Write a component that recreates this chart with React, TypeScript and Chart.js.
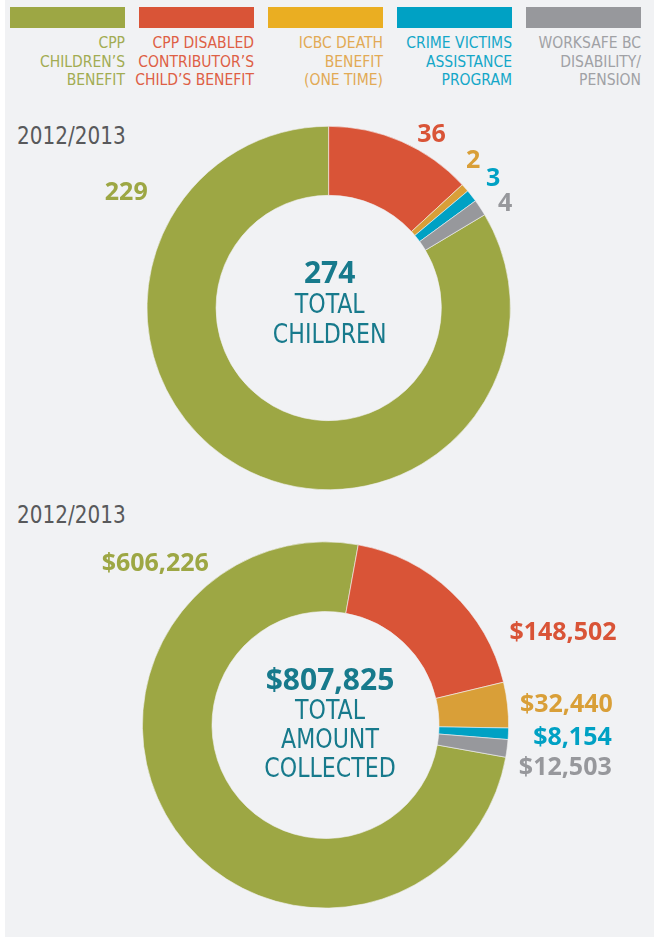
import React, { useEffect, useRef } from "react";
import { Chart, registerables } from "chart.js";

Chart.register(...registerables);

// ---------- data ----------
const categories = [
  "CPP Children’s Benefit",
  "CPP Disabled Contributor’s Child’s Benefit",
  "ICBC Death Benefit (One Time)",
  "Crime Victims Assistance Program",
  "WorkSafe BC Disability/Pension",
];
const legendLines = [
  ["CPP", "CHILDREN’S", "BENEFIT"],
  ["CPP DISABLED", "CONTRIBUTOR’S", "CHILD’S BENEFIT"],
  ["ICBC DEATH", "BENEFIT", "(ONE TIME)"],
  ["CRIME VICTIMS", "ASSISTANCE", "PROGRAM"],
  ["WORKSAFE BC", "DISABILITY/", "PENSION"],
];
const childrenCounts = [229, 36, 2, 3, 4];
const amountsCollected = [606226, 148502, 32440, 8154, 12503];
const periodLabel = "2012/2013";
const childrenCenterWords = ["TOTAL", "CHILDREN"];
const amountCenterWords = ["TOTAL", "AMOUNT", "COLLECTED"];

// ---------- styles ----------
const BG = "#f1f2f4";
const sliceColors = ["#9da744", "#d95437", "#d99f38", "#00a1c4", "#97989c"];
const legendBarColors = ["#9da744", "#d95437", "#eaae22", "#00a1c4", "#97989c"];
const legendTextColors = ["#a2ac52", "#de5f45", "#e2aa55", "#14a7c8", "#a0a1a5"];
const labelColors = ["#9da744", "#d95437", "#d99f38", "#00a1c4", "#97989c"];
const TEAL = "#177a8c";
const NARROW = '"Liberation Sans Narrow", "DejaVu Sans Condensed", "Arial Narrow", sans-serif';
const BOLD = '"Open Sans", "Noto Sans", sans-serif';

// label placement (angle deg clockwise from top, distance as ratio of outer radius)
const childrenLabelPos = [
  [300.1, 1.288],
  [30.4, 1.118],
  [44.1, 1.143],
  [51.4, 1.158],
  [59.1, 1.131],
];
const amountLabelPos = [
  [313.7, 1.286],
  [68.4, 1.395],
  [84.8, 1.321],
  [92.5, 1.35],
  [99.8, 1.329],
];

const fmtMoney = (v: number) => "$" + v.toLocaleString("en-US");

type DonutProps = {
  data: number[];
  labels: string[];
  labelPos: number[][];
  centerBold: string;
  centerWords: string[];
  centerOffsets: number[];
  centerDx: number;
  firstSliceStart: number;
  padding: { left: number; right: number; top: number; bottom: number };
  top: number;
  height: number;
};

function Donut(p: DonutProps) {
  const ref = useRef<HTMLCanvasElement | null>(null);
  useEffect(() => {
    const total = p.data.reduce((a, b) => a + b, 0);
    const rotation = p.firstSliceStart + (360 * (total - p.data[0])) / total;

    const labelPlugin = {
      id: "sliceLabels",
      afterDraw(chart: any) {
        const arc = chart.getDatasetMeta(0).data[0];
        if (!arc) return;
        const { x: cx, y: cy, outerRadius: R } = arc;
        const ctx = chart.ctx;
        ctx.save();
        const fs = 25;
        ctx.font = `700 ${fs}px ${BOLD}`;
        ctx.textAlign = "center";
        ctx.textBaseline = "alphabetic";
        p.labels.forEach((t, i) => {
          const [a, d] = p.labelPos[i];
          const rad = (a * Math.PI) / 180;
          const x = cx + d * R * Math.sin(rad);
          const y = cy - d * R * Math.cos(rad);
          ctx.fillStyle = labelColors[i];
          ctx.fillText(t, x, y + 0.357 * fs);
        });
        // center text
        ctx.fillStyle = TEAL;
        const bfs = 30;
        ctx.font = `700 ${bfs}px ${BOLD}`;
        ctx.fillText(p.centerBold, cx + p.centerDx, cy + p.centerOffsets[0] + 0.357 * bfs);
        const nfs = 27;
        ctx.font = `400 ${nfs}px ${NARROW}`;
        p.centerWords.forEach((w, i) => {
          ctx.save();
          ctx.translate(cx + p.centerDx, cy + p.centerOffsets[i + 1] + 0.36 * nfs);
          ctx.scale(0.91, 1);
          ctx.fillText(w, 0, 0);
          ctx.restore();
        });
        ctx.restore();
      },
    };

    const chart = new Chart(ref.current as HTMLCanvasElement, {
      type: "doughnut",
      data: {
        labels: categories,
        datasets: [
          {
            data: p.data,
            backgroundColor: sliceColors,
            borderColor: BG,
            borderWidth: 0.6,
            hoverOffset: 0,
          },
        ],
      },
      options: {
        responsive: false,
        animation: false,
        cutout: "62%",
        rotation,
        layout: { padding: p.padding },
        plugins: { legend: { display: false }, tooltip: { enabled: false } },
      },
      plugins: [labelPlugin],
    } as any);
    const fonts: any = (document as any).fonts;
    if (fonts && fonts.ready) fonts.ready.then(() => chart.draw());
    return () => chart.destroy();
  }, []);
  return (
    <canvas
      ref={ref}
      width={654}
      height={p.height}
      style={{ position: "absolute", left: 0, top: p.top, width: 654, height: p.height }}
    />
  );
}

const periodStyle = (top: number): React.CSSProperties => ({
  position: "absolute",
  left: 17,
  top,
  fontFamily: NARROW,
  fontSize: 25,
  lineHeight: "34px",
  color: "#58595b",
  transform: "scaleX(0.89)",
  transformOrigin: "left center",
  whiteSpace: "nowrap",
});

export default function App() {
  const childrenTotal = childrenCounts.reduce((a, b) => a + b, 0);
  const amountTotal = amountsCollected.reduce((a, b) => a + b, 0);
  return (
    <div style={{ position: "absolute", left: 0, top: 0, width: 654, height: 938, background: "#ffffff", overflow: "hidden" }}>
      <div style={{ position: "absolute", left: 5, top: 0, width: 649, height: 937, background: BG }} />
      {legendLines.map((lines, i) => (
        <div key={i}>
          <div
            style={{
              position: "absolute",
              left: 10 + i * 129,
              top: 7,
              width: 115,
              height: 21,
              background: legendBarColors[i],
            }}
          />
          <div
            style={{
              position: "absolute",
              left: 10 + i * 129 - 30,
              top: 34,
              width: 145,
              textAlign: "right",
              fontFamily: NARROW,
              fontSize: 15.5,
              lineHeight: "18.7px",
              color: legendTextColors[i],
              whiteSpace: "nowrap",
            }}
          >
            {lines.map((l, j) => (
              <div key={j}>{l}</div>
            ))}
          </div>
        </div>
      ))}
      <div style={periodStyle(119)}>{periodLabel}</div>
      <div style={periodStyle(498)}>{periodLabel}</div>
      <Donut
        data={childrenCounts}
        labels={childrenCounts.map(String)}
        labelPos={childrenLabelPos}
        centerBold={String(childrenTotal)}
        centerWords={childrenCenterWords}
        centerOffsets={[-35.5, -5, 25]}
        centerDx={1}
        firstSliceStart={0}
        padding={{ left: 146.5, right: 143.1, top: 26, bottom: 20 }}
        top={100}
        height={410}
      />
      <Donut
        data={amountsCollected}
        labels={amountsCollected.map(fmtMoney)}
        labelPos={amountLabelPos}
        centerBold={fmtMoney(amountTotal)}
        centerWords={amountCenterWords}
        centerOffsets={[-46, -16, 13, 42]}
        centerDx={4.5}
        firstSliceStart={10.3}
        padding={{ left: 142.1, right: 145.1, top: 21.6, bottom: 21.6 }}
        top={520}
        height={410}
      />
    </div>
  );
}
